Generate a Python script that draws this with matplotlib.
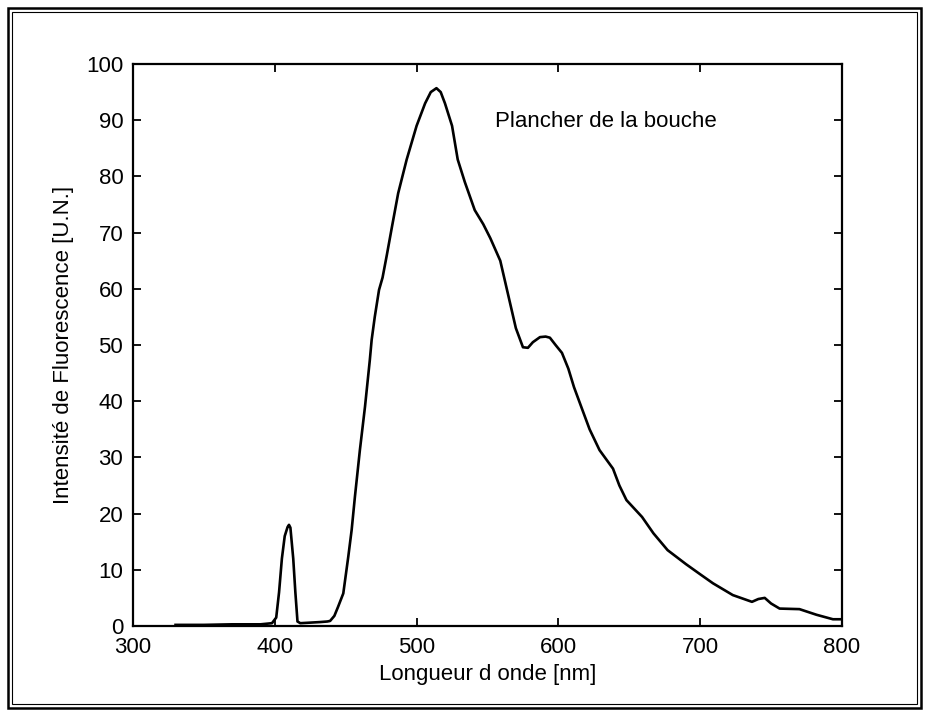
import matplotlib
matplotlib.use("Agg")
import matplotlib.pyplot as plt
from matplotlib.patches import Rectangle

wavelength = [330, 350, 370, 390, 398, 401, 403, 405, 407, 409, 410, 411, 413, 414.5, 416, 418,
              425, 432, 437, 439, 442, 444.6, 448.3, 451.8, 454.2, 456.5, 460, 463.6, 467, 468.3,
              470.5, 473.5, 476, 479, 482.6, 487, 493, 500, 506, 510, 514, 517, 520, 525,
              529, 534, 541, 547, 552, 559, 564.5, 570, 575, 578.5, 582, 587, 591, 594,
              598, 602.5, 607, 611, 617, 622, 629, 638.5, 643, 648, 659, 667, 677, 690,
              700, 709, 723, 736.5, 741, 745.5, 750, 756, 770, 782, 793.6, 800]
intensity = [0.2, 0.2, 0.3, 0.3, 0.5, 1.5, 6, 12, 16, 17.6, 18, 17.5, 12, 6, 0.8, 0.5,
             0.6, 0.7, 0.8, 0.9, 1.8, 3.4, 5.8, 12.3, 17.1, 23, 31.3, 39, 47.3, 50.9,
             55, 59.8, 62, 66, 71, 77, 83, 89, 93, 95, 95.7, 95, 93, 89,
             83, 79, 74, 71.5, 69, 65, 59, 53, 49.6, 49.5, 50.5, 51.4, 51.5, 51.3,
             50, 48.6, 45.8, 42.5, 38.4, 35, 31.3, 28, 25, 22.4, 19.4, 16.5, 13.5, 11,
             9.2, 7.6, 5.5, 4.3, 4.8, 5.0, 4.0, 3.1, 3.0, 2.0, 1.2, 1.2]

x_ticks = [300, 400, 500, 600, 700, 800]
y_ticks = [0, 10, 20, 30, 40, 50, 60, 70, 80, 90, 100]
x_label = "Longueur d onde [nm]"
y_label = "Intensité de Fluorescence [U.N.]"
annotation = "Plancher de la bouche"

plt.rcParams['font.family'] = ['Liberation Sans', 'DejaVu Sans']

W, H = 925, 711
fig = plt.figure(figsize=(W / 100, H / 100), dpi=100)
ax = fig.add_axes([133 / W, 1 - 626 / H, (842 - 133) / W, (626 - 64) / H])

ax.plot(wavelength, intensity, color='black', linewidth=1.9)
ax.set_xlim(300, 800)
ax.set_ylim(0, 100)
ax.set_xticks(x_ticks)
ax.set_yticks(y_ticks)
ax.tick_params(direction='in', length=6, width=1.3, top=True, right=True,
               labelsize=16, pad=7)
ax.tick_params(axis='x', pad=8)
for s in ax.spines.values():
    s.set_linewidth(1.6)
ax.set_xlabel(x_label, fontsize=16, labelpad=4)
ax.set_ylabel(y_label, fontsize=16, labelpad=9)
ax.text(555, 89.7, annotation, fontsize=16, ha='left', va='center')

# outer double frame
fig.patches.append(Rectangle((8 / W, 1 - 708 / H), (921 - 8) / W, (708 - 8) / H,
                             transform=fig.transFigure, fill=False, lw=1.8, ec='black'))
fig.patches.append(Rectangle((12 / W, 1 - 704 / H), (917 - 12) / W, (704 - 12) / H,
                             transform=fig.transFigure, fill=False, lw=0.8, ec='black'))

fig.savefig("out.png", dpi=100)
